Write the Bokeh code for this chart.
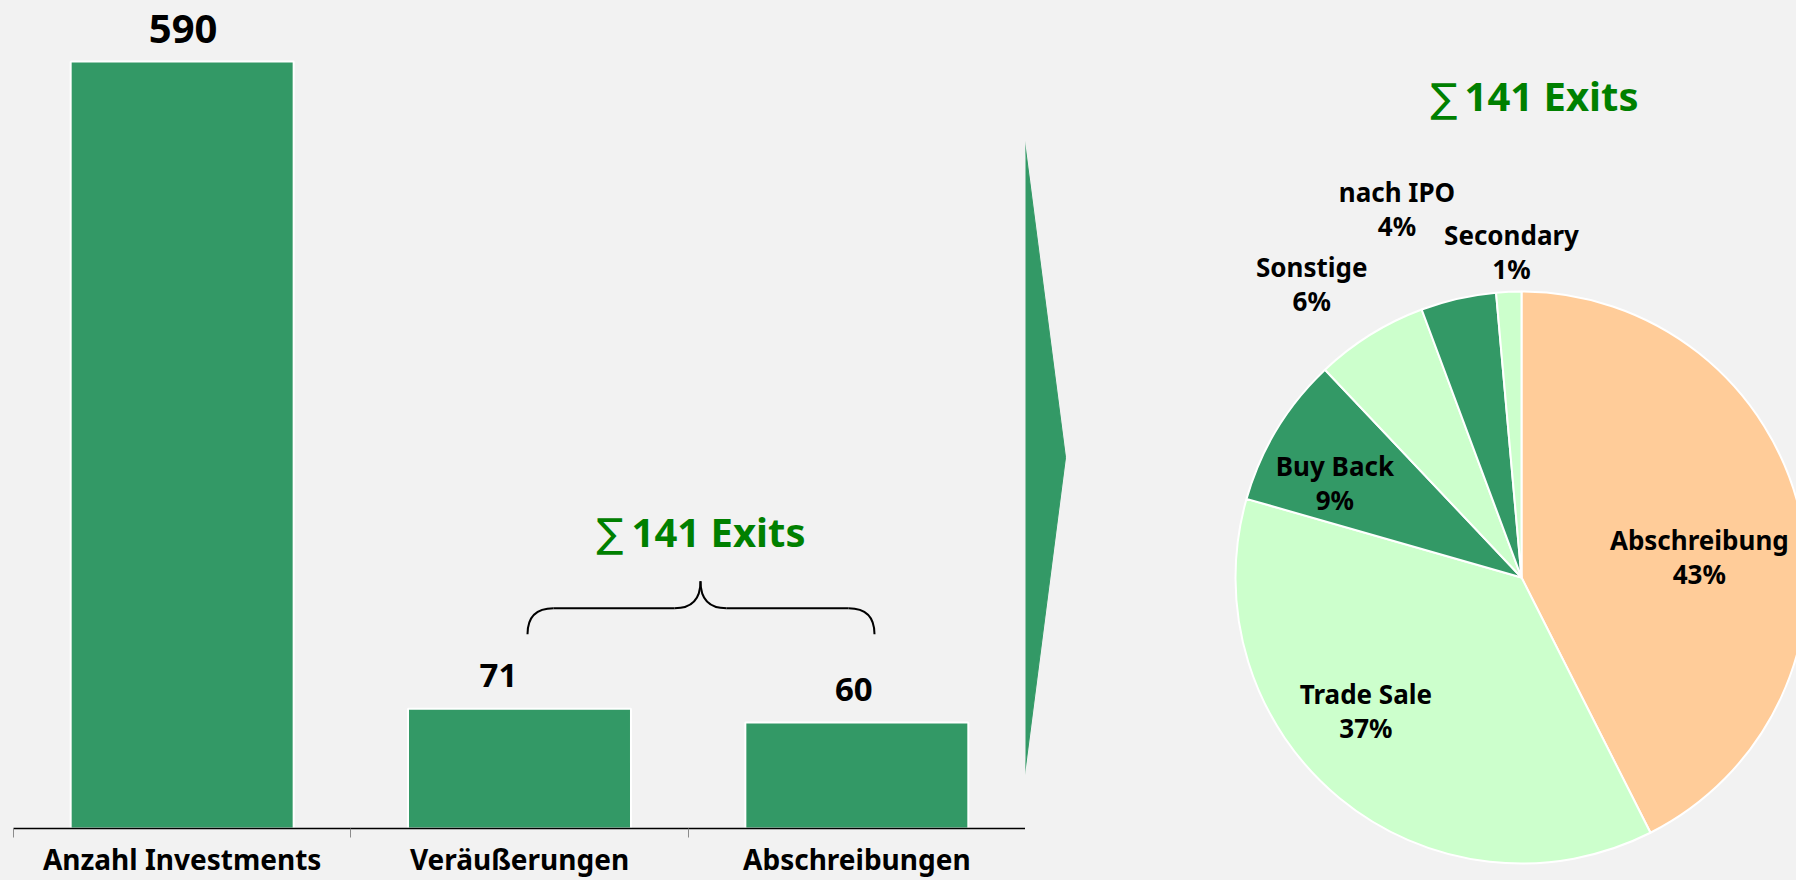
import numpy as np
from bokeh.plotting import figure
from bokeh.layouts import row
from bokeh.models import Range1d, FixedTicker, ColumnDataSource, GlobalInlineStyleSheet
from bokeh.core.properties import value
from bokeh.embed import file_html
from bokeh.resources import INLINE

# ---------------- data ----------------
CATEGORIES = ["Anzahl Investments", "Veräußerungen", "Abschreibungen"]
BAR_VALUES = [590, 71, 60]
EXIT_TOTAL = 141
EXIT_TYPES = ["Abschreibung", "Trade Sale", "Buy Back", "Sonstige", "nach IPO", "Secondary"]
EXIT_COUNTS = [60, 52, 12, 9, 6, 2]

# ---------------- style / layout ----------------
BG = "#F2F2F2"
DARK = "#339966"
LIGHT = "#CCFFCC"
PEACH = "#FFCC99"
TITLE_GREEN = "#008000"
SLICE_COLORS = [PEACH, LIGHT, DARK, LIGHT, DARK, LIGHT]
FONT = value("Noto Sans")
SIGMA = "\u2211"
TITLE = f"{EXIT_TOTAL} Exits"

H = 880
SPLIT = 1025               # page x where bar figure ends and pie figure starts
BAR_FIG_W = SPLIT
PIE_FIG_W = 1796 - SPLIT
FRAME_LEFT = 13            # page x of bar frame left
CAT_W = (SPLIT - FRAME_LEFT) / len(CATEGORIES)
AXIS_Y = 827               # page y of the axis line
BASE = -25                 # baseline of the (not to scale) bar chart
MAX_BAR_TOP = 61           # page y of tallest bar top
PX_PER_UNIT = (AXIS_Y - MAX_BAR_TOP) / (max(BAR_VALUES) - BASE)
Y_END = BASE + AXIS_Y / PX_PER_UNIT


def bx(px):
    return (px - FRAME_LEFT) / CAT_W


def by(py):
    return BASE + (AXIS_Y - py) / PX_PER_UNIT


def pxp(px):
    return px - SPLIT


def pyp(py):
    return H - py


# ---------------- bar figure ----------------
p1 = figure(width=BAR_FIG_W, height=H, x_range=Range1d(0, len(CATEGORIES)),
            y_range=Range1d(BASE, Y_END), output_backend="svg", toolbar_location=None,
            y_axis_location=None, min_border_left=FRAME_LEFT, min_border_right=0,
            min_border_top=0, min_border_bottom=0,
            background_fill_color=BG, border_fill_color=BG, outline_line_color=None)
p1.frame_align = False
p1.xgrid.visible = False
p1.ygrid.visible = False

xs = np.arange(len(CATEGORIES)) + 0.5
VALUE_SIZES = ["40px", "33px", "33px"]
VALUE_XOFF = [1, -21, -3]
bsrc = ColumnDataSource(dict(x=xs, top=BAR_VALUES, label=[str(v) for v in BAR_VALUES],
                             size=VALUE_SIZES, xoff=VALUE_XOFF))
p1.vbar(x="x", top="top", bottom=BASE, width=0.661, source=bsrc,
        fill_color=DARK, line_color="white", line_width=2)
p1.text(x="x", y="top", text="label", source=bsrc, text_font_size="size",
        x_offset="xoff", y_offset=-33, text_align="center", text_baseline="alphabetic",
        text_font=FONT, text_font_style="bold", text_color="black")

ax = p1.xaxis[0]
ax.ticker = FixedTicker(ticks=list(xs), minor_ticks=list(range(len(CATEGORIES) + 1)))
ax.major_label_overrides = {float(x): c for x, c in zip(xs, CATEGORIES)}
ax.axis_line_color = "black"
ax.axis_line_width = 1.5
ax.major_tick_line_color = None
ax.major_tick_out = 9
ax.major_tick_in = 0
ax.minor_tick_line_color = "#8C8C8C"
ax.minor_tick_out = 9
ax.minor_tick_in = 0
ax.major_label_standoff = 2
ax.major_label_text_font = "Noto Sans"
ax.major_label_text_font_style = "bold"
ax.major_label_text_font_size = "28px"
ax.major_label_text_color = "black"

# left title
p1.text(x=[bx(623)], y=[by(532)], text=[SIGMA], text_align="right", text_baseline="alphabetic",
        text_font=value("DejaVu Sans"), text_font_size="40px", text_color=TITLE_GREEN)
p1.text(x=[bx(631)], y=[by(530)], text=[TITLE], text_align="left", text_baseline="alphabetic",
        text_font=FONT, text_font_style="bold", text_font_size="40px", text_color=TITLE_GREEN)

# brace
BL, BR, BC, BLY, BCY, BAY, R = 527, 874, 700, 607, 580, 633, 26
p1.segment(x0=[bx(BL + R), bx(BC + R)], y0=[by(BLY)] * 2,
           x1=[bx(BC - R), bx(BR - R)], y1=[by(BLY)] * 2, line_color="black", line_width=2)
p1.quadratic(x0=[bx(BL), bx(BC - R), bx(BC), bx(BR - R)],
             y0=[by(BAY), by(BLY), by(BCY), by(BLY)],
             x1=[bx(BL + R), bx(BC), bx(BC + R), bx(BR)],
             y1=[by(BLY), by(BCY), by(BLY), by(BAY)],
             cx=[bx(BL), bx(BC), bx(BC), bx(BR)],
             cy=[by(BLY), by(BLY), by(BLY), by(BLY)],
             line_color="black", line_width=2)

# ---------------- pie figure ----------------
p2 = figure(width=PIE_FIG_W, height=H, x_range=Range1d(0, PIE_FIG_W), y_range=Range1d(0, H),
            output_backend="svg", toolbar_location=None, x_axis_location=None,
            y_axis_location=None, min_border=0, background_fill_color=BG,
            border_fill_color=BG, outline_line_color=None)
p2.frame_align = False
p2.xgrid.visible = False
p2.ygrid.visible = False

# arrow
p2.patch(x=[pxp(1022), pxp(1065), pxp(1022)], y=[pyp(125), pyp(457), pyp(790)], color=DARK)

counts = np.array(EXIT_COUNTS, dtype=float)
cum = np.cumsum(counts)
frac_start = (cum - counts) / EXIT_TOTAL
frac_end = cum / EXIT_TOTAL
CX, CY, RAD = pxp(1521), pyp(577), 286
psrc = ColumnDataSource(dict(
    start=np.pi / 2 - 2 * np.pi * frac_start,
    end=np.pi / 2 - 2 * np.pi * frac_end,
    color=SLICE_COLORS))
p2.wedge(x=CX, y=CY, radius=RAD, start_angle="start", end_angle="end", direction="clock",
         fill_color="color", line_color="white", line_width=2, source=psrc)

LABEL_R = [179, 205, 209, 361, 389, 326]
LABEL_SHIFT = [6.8, 9.8, -4.5, -3.6, -5.9, 0.8]
mid = 2 * np.pi * (frac_start + frac_end) / 2 + np.radians(LABEL_SHIFT)
lx = CX + np.array(LABEL_R) * np.sin(mid)
ly = CY + np.array(LABEL_R) * np.cos(mid)
labels = [f"{t}\n{int(c * 100 / EXIT_TOTAL + 0.5)}%" for t, c in zip(EXIT_TYPES, EXIT_COUNTS)]
p2.text(x=lx, y=ly, text=labels, text_align="center", text_baseline="middle",
        text_font=FONT, text_font_style="bold", text_font_size="26px",
        text_line_height=0.94, text_color="black")

# right title
p2.text(x=[pxp(1457)], y=[pyp(97)], text=[SIGMA], text_align="right", text_baseline="alphabetic",
        text_font=value("DejaVu Sans"), text_font_size="40px", text_color=TITLE_GREEN)
p2.text(x=[pxp(1464)], y=[pyp(95)], text=[TITLE], text_align="left", text_baseline="alphabetic",
        text_font=FONT, text_font_style="bold", text_font_size="40px", text_color=TITLE_GREEN)

layout = row(p1, p2, spacing=0,
             stylesheets=[GlobalInlineStyleSheet(css="html, body { background: #F2F2F2; }")])

open("out.html", "w").write(file_html(layout, INLINE))
